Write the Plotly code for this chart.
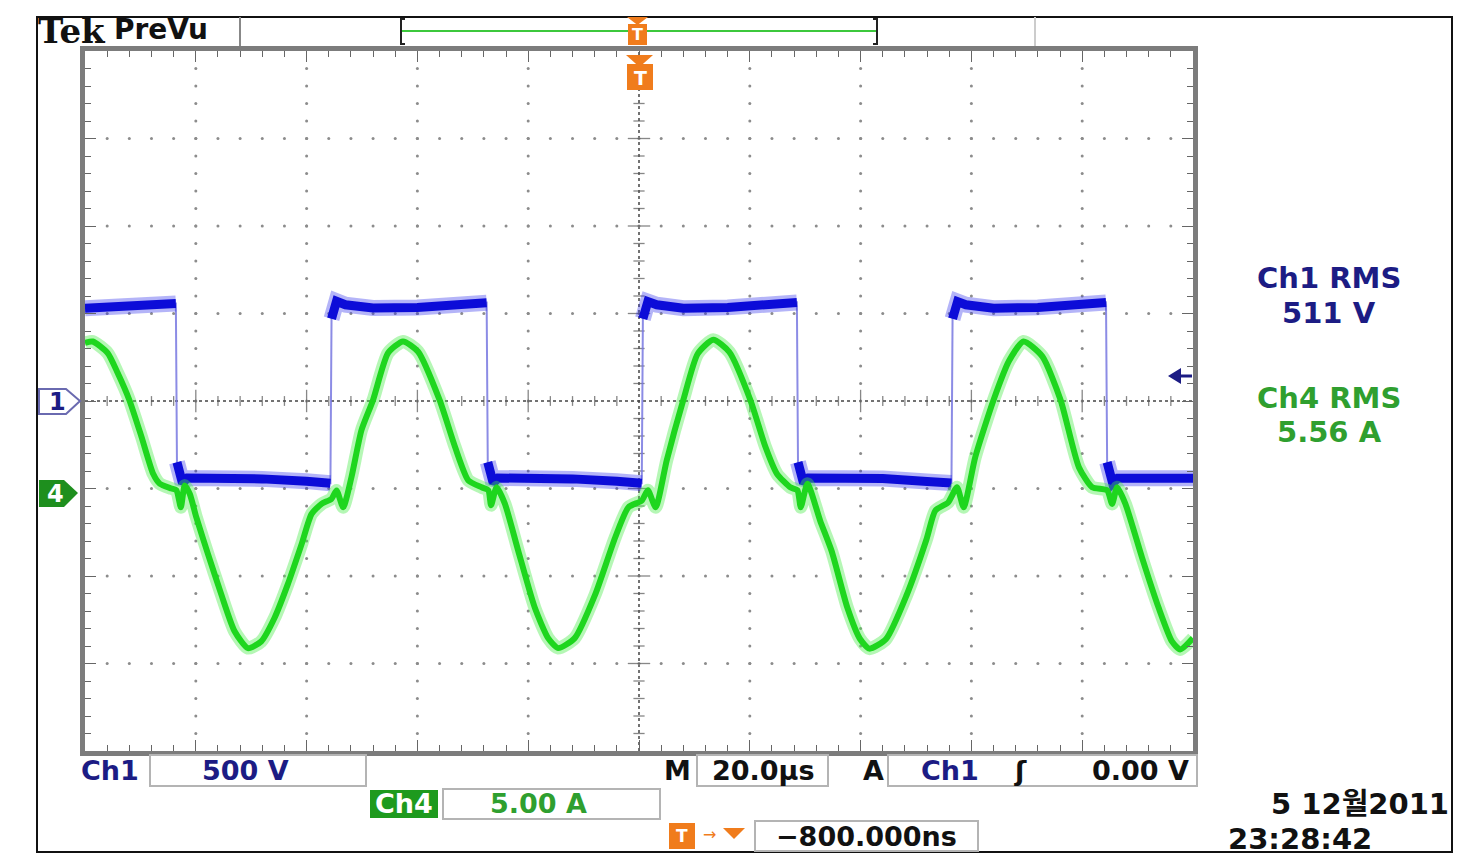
import numpy as np
import plotly.graph_objects as go

# ---------------- data ----------------
# time in microseconds (20 us/div, trigger at centre)
ch1_t = [-100, -92, -86, -83.6, -83.4, -82.4, -81.5, -76, -68, -60, -55.7,
         -55.5, -54.6, -53, -48, -40, -32, -27.5,
         -27.3, -26.3, -25.4, -20, -12, -4, 0.5,
         0.7, 1.6, 3.2, 8, 16, 24, 28.5,
         28.7, 29.7, 30.6, 36, 44, 52, 56.4,
         56.6, 57.5, 59, 64, 72, 80, 84.3,
         84.5, 85.5, 86.4, 92, 100]
# Ch1 voltage in volts (500 V/div)
ch1_v = [530, 538, 548, 557, -350, -470, -440, -437, -445, -458, -470,
         470, 570, 550, 532, 535, 548, 562,
         -350, -470, -440, -437, -445, -458, -470,
         470, 568, 550, 530, 535, 548, 563,
         -350, -470, -440, -437, -443, -460, -468,
         470, 568, 550, 530, 535, 548, 563,
         -350, -470, -442, -440, -442]

ch4_t = [-100, -98.6, -95.9, -94.1, -92.0, -89.8, -87.7, -86.5, -84.4, -83.5,
         -82.7, -82.0, -81.1, -79.9, -77.8, -75.4, -73.0, -70.6, -68.2, -65.8,
         -63.4, -60.9, -59.1, -57.3, -55.5, -54.6, -53.4, -51.9, -50.1, -48.0,
         -45.3, -42.6, -39.9, -36.0, -33.2, -30.8, -28.4, -27.2, -26.7, -25.7,
         -24.2, -21.8, -18.8, -16.4, -14.6, -11.6, -7.9, -4.3, -1.9, 0.5,
         1.6, 3.0, 5.0, 8.0, 10.6, 13.4, 16.3, 20.1, 22.8, 24.9,
         27.3, 28.6, 29.2, 30.4, 32.7, 34.8, 37.6, 39.9, 41.6, 44.6,
         48.3, 51.9, 53.5, 55.8, 57.4, 58.6, 60.7, 64.0, 66.8, 69.4,
         72.8, 76.1, 79.4, 81.8, 84.5, 85.4, 86.3, 87.8, 90.8, 93.8,
         96.2, 97.7, 100]
# Ch4 current in amperes (5 A/div)
ch4_i = [8.32, 8.4, 7.74, 6.6, 5.06, 2.95, 0.84, 0.27, 0.0, -0.1,
         -1.07, 0.17, -0.3, -1.65, -3.75, -6.05, -8.16, -9.12, -8.74, -7.4,
         -5.48, -3.18, -1.45, -0.88, -0.59, -0.11, -1.07, 0.65, 3.33, 5.06,
         7.74, 8.4, 7.83, 5.06, 2.37, 0.46, 0.07, -0.1, -0.95, 0.07,
         -0.88, -3.56, -6.82, -8.55, -9.12, -8.55, -6.05, -2.8, -1.07, -0.69,
         -0.1, -1.07, 1.6, 5.06, 7.7, 8.5, 7.8, 5.06, 2.4, 0.84,
         0.07, -0.1, -1.07, 0.27, -1.84, -3.6, -6.8, -8.6, -9.15, -8.6,
         -6.1, -2.9, -1.26, -0.8, 0.07, -1.07, 1.8, 5.06, 7.3, 8.4,
         7.55, 5.06, 1.22, 0.07, -0.1, -0.88, 0.07, -0.88, -3.95, -6.82,
         -8.74, -9.2, -8.55]

V_PER_DIV = 500
A_PER_DIV = 5
US_PER_DIV = 20
CH4_POS_DIV = -1

ch1_rms_label = "511 V"
ch4_rms_label = "5.56 A"
ch1_scale_label = "500 V"
ch4_scale_label = "5.00 A"
time_scale_label = "20.0µs"
trig_level_label = "0.00 V"
trig_pos_label = "\u2212800.000ns"
date_label = "5 12월2011"
clock_label = "23:28:42"

# ---------------- figure geometry ----------------
W, H = 1479, 868
L, R, T, B = 85, 1193, 51, 751


def PX(x):
    return (x - L) / (R - L)


def PY(y):
    return (B - y) / (B - T)


NAVY = "#1c1c84"
GREEN_TXT = "#2f9f2f"
ORANGE = "#f07c1c"
FONT = "DejaVu Sans, Noto Sans CJK KR, sans-serif"

fig = go.Figure()

# graticule dots
gx, gy = [], []
for tx in range(-80, 81, US_PER_DIV):
    if tx == 0:
        continue
    for vy in np.arange(-1900, 1901, 100):
        gx.append(tx)
        gy.append(vy)
for vy in range(-1500, 1501, V_PER_DIV):
    if vy == 0:
        continue
    for tx in np.arange(-96, 97, 4):
        gx.append(tx)
        gy.append(vy)
fig.add_trace(go.Scatter(x=gx, y=gy, mode="markers",
                         marker=dict(size=3, color="#8c8c8c"),
                         hoverinfo="skip"))

# centre-line ticks
ctx = [v for v in np.arange(-96, 97, 4) if v != 0]
fig.add_trace(go.Scatter(x=ctx, y=[0] * len(ctx), mode="markers",
                         marker=dict(symbol="line-ns",
                                     size=[16 if abs(v) % 20 == 0 else 7 for v in ctx],
                                     line=dict(width=1.3, color="#555")),
                         hoverinfo="skip"))
cty = [v for v in np.arange(-1900, 1901, 100) if v != 0]
fig.add_trace(go.Scatter(x=[0] * len(cty), y=cty, mode="markers",
                         marker=dict(symbol="line-ew",
                                     size=[16 if abs(v) % 500 == 0 else 8 for v in cty],
                                     line=dict(width=1.3, color="#555")),
                         hoverinfo="skip"))

# Ch1 thin full trace (edges)
fig.add_trace(go.Scatter(x=ch1_t, y=ch1_v, mode="lines",
                         line=dict(color="rgba(120,120,225,0.85)", width=2),
                         hoverinfo="skip"))
# Ch1 thick plateaus: break where the trace jumps
th_t, th_v = [], []
for i in range(len(ch1_t)):
    if i > 0 and abs(ch1_v[i] - ch1_v[i - 1]) > 500:
        th_t.append(None)
        th_v.append(None)
    th_t.append(ch1_t[i])
    th_v.append(ch1_v[i])
fig.add_trace(go.Scatter(x=th_t, y=th_v, mode="lines",
                         line=dict(color="rgba(40,40,235,0.35)", width=16),
                         hoverinfo="skip"))
fig.add_trace(go.Scatter(x=th_t, y=th_v, mode="lines",
                         line=dict(color="#0c0cd8", width=9),
                         hoverinfo="skip"))

# Ch4 current
fig.add_trace(go.Scatter(x=ch4_t, y=ch4_i, mode="lines", yaxis="y2",
                         line=dict(color="rgba(70,235,70,0.4)", width=13,
                                   shape="spline", smoothing=0.6),
                         hoverinfo="skip"))
fig.add_trace(go.Scatter(x=ch4_t, y=ch4_i, mode="lines", yaxis="y2",
                         line=dict(color="#1ed61e", width=6,
                                   shape="spline", smoothing=0.6),
                         hoverinfo="skip"))

shapes = []
# centre lines
shapes.append(dict(type="line", xref="x", yref="y", x0=-100, x1=100, y0=0, y1=0,
                   line=dict(color="#444", width=1.5, dash="dot"), layer="below"))
shapes.append(dict(type="line", xref="x", yref="y", x0=0, x1=0, y0=-2000, y1=2000,
                   line=dict(color="#444", width=1.5, dash="dot"), layer="below"))

# outer black frame
shapes.append(dict(type="rect", xref="paper", yref="paper",
                   x0=PX(37), x1=PX(1452), y0=PY(852), y1=PY(17),
                   line=dict(color="#111", width=2)))
# top bar separators
shapes.append(dict(type="line", xref="paper", yref="paper", x0=PX(240), x1=PX(240),
                   y0=PY(17), y1=PY(46), line=dict(color="#888", width=2)))
shapes.append(dict(type="line", xref="paper", yref="paper", x0=PX(1035), x1=PX(1035),
                   y0=PY(17), y1=PY(46), line=dict(color="#ccc", width=2)))
# record view bracket
shapes.append(dict(type="line", xref="paper", yref="paper", x0=PX(401), x1=PX(877),
                   y0=PY(31), y1=PY(31), line=dict(color="#3cc83c", width=2)))
for xb, d in ((401, 4), (877, -4)):
    shapes.append(dict(type="path", xref="paper", yref="paper",
                       path=f"M {PX(xb + d)} {PY(19)} L {PX(xb)} {PY(19)} L {PX(xb)} {PY(44)} L {PX(xb + d)} {PY(44)}",
                       line=dict(color="#222", width=2)))
# orange trigger markers
shapes.append(dict(type="path", xref="paper", yref="paper",
                   path=f"M {PX(627)} {PY(17)} L {PX(648)} {PY(17)} L {PX(637.5)} {PY(25)} Z",
                   fillcolor=ORANGE, line=dict(width=0)))
shapes.append(dict(type="rect", xref="paper", yref="paper",
                   x0=PX(628), x1=PX(647), y0=PY(45), y1=PY(24),
                   fillcolor=ORANGE, line=dict(width=0)))
shapes.append(dict(type="path", xref="paper", yref="paper",
                   path=f"M {PX(626)} {PY(55)} L {PX(653)} {PY(55)} L {PX(639.5)} {PY(67)} Z",
                   fillcolor=ORANGE, line=dict(width=0)))
shapes.append(dict(type="rect", xref="paper", yref="paper",
                   x0=PX(627), x1=PX(653), y0=PY(90), y1=PY(64),
                   fillcolor=ORANGE, line=dict(width=0)))
# channel markers on the left
shapes.append(dict(type="path", xref="paper", yref="paper",
                   path=f"M {PX(39)} {PY(389)} L {PX(66)} {PY(389)} L {PX(80)} {PY(401)} L {PX(66)} {PY(414)} L {PX(39)} {PY(414)} Z",
                   fillcolor="white", line=dict(color="#6a6ab0", width=2)))
shapes.append(dict(type="path", xref="paper", yref="paper",
                   path=f"M {PX(39)} {PY(480)} L {PX(64)} {PY(480)} L {PX(78)} {PY(493)} L {PX(64)} {PY(507)} L {PX(39)} {PY(507)} Z",
                   fillcolor="#1e8f1e", line=dict(width=0)))
# trigger level arrow on the right
shapes.append(dict(type="path", xref="paper", yref="paper",
                   path=f"M {PX(1168)} {PY(376)} L {PX(1181)} {PY(368)} L {PX(1181)} {PY(384)} Z",
                   fillcolor=NAVY, line=dict(width=0)))
shapes.append(dict(type="line", xref="paper", yref="paper", x0=PX(1180), x1=PX(1192),
                   y0=PY(376), y1=PY(376), line=dict(color=NAVY, width=3)))
# readout boxes
for x0, x1, y0, y1 in ((150, 366, 755, 786), (697, 828, 755, 786), (888, 1197, 755, 786),
                       (443, 660, 789, 819), (755, 978, 821, 851)):
    shapes.append(dict(type="rect", xref="paper", yref="paper",
                       x0=PX(x0), x1=PX(x1), y0=PY(y1), y1=PY(y0),
                       line=dict(color="#b4b4b4", width=2)))
shapes.append(dict(type="rect", xref="paper", yref="paper",
                   x0=PX(370), x1=PX(438), y0=PY(818), y1=PY(790),
                   fillcolor="#1e9a1e", line=dict(width=0)))
# bottom trigger position icon
shapes.append(dict(type="rect", xref="paper", yref="paper",
                   x0=PX(669), x1=PX(695), y0=PY(849), y1=PY(823),
                   fillcolor=ORANGE, line=dict(width=0)))
shapes.append(dict(type="path", xref="paper", yref="paper",
                   path=f"M {PX(723)} {PY(828)} L {PX(745)} {PY(828)} L {PX(734)} {PY(839)} Z",
                   fillcolor=ORANGE, line=dict(width=0)))


def txt(x, y, s, size=28, color="#111", anchor="center", bold=True, family=FONT):
    return dict(xref="paper", yref="paper", x=PX(x), y=PY(y),
                text=f"<b>{s}</b>" if bold else s,
                showarrow=False, xanchor=anchor, yanchor="middle",
                font=dict(size=size, color=color, family=family))


ann = [
    txt(36, 31, "Tek", size=34, anchor="left", family="DejaVu Serif, serif"),
    txt(112, 29, "PreVu", size=28, anchor="left"),
    txt(637.5, 35, "T", size=16, color="white"),
    txt(640, 78, "T", size=19, color="white"),
    txt(57, 402, "1", size=24, color=NAVY),
    txt(55, 494, "4", size=24, color="white"),
    txt(1329, 277.5, "Ch1 RMS", size=29, color=NAVY),
    txt(1329, 312.5, ch1_rms_label, size=29, color=NAVY),
    txt(1329, 397.5, "Ch4 RMS", size=29, color=GREEN_TXT),
    txt(1329, 432.5, ch4_rms_label, size=29, color=GREEN_TXT),
    txt(79, 770, "Ch1", size=27, color=NAVY, anchor="left"),
    txt(245, 770, ch1_scale_label, size=27, color=NAVY),
    txt(677, 771, "M", size=27),
    txt(763, 771, time_scale_label, size=27),
    txt(873, 771, "A", size=27),
    txt(950, 771, "Ch1", size=27, color=NAVY),
    txt(1020, 771, "ʃ", size=27),
    txt(1140, 771, trig_level_label, size=27),
    txt(404, 804, "Ch4", size=27, color="white"),
    txt(538, 804, ch4_scale_label, size=27, color=GREEN_TXT),
    txt(1451, 804, date_label, size=29, anchor="right"),
    txt(1226, 838.5, clock_label, size=29, anchor="left"),
    txt(682, 836, "T", size=17, color="white"),
    txt(709, 834, "→", size=16, color=ORANGE, bold=False),
    txt(866, 836, trig_pos_label, size=27),
]

axis_common = dict(showgrid=False, zeroline=False, showticklabels=False,
                   showline=True, linecolor="#7c7c7c", linewidth=5, mirror="ticks",
                   ticks="inside", ticklen=11, tickcolor="#666", tickwidth=1.3)

fig.update_layout(
    width=W, height=H, autosize=False,
    margin=dict(l=L, r=W - R, t=T, b=H - B, pad=0),
    paper_bgcolor="white", plot_bgcolor="white",
    showlegend=False, hovermode=False,
    xaxis=dict(range=[-5 * US_PER_DIV, 5 * US_PER_DIV], dtick=US_PER_DIV, tick0=0,
               minor=dict(dtick=US_PER_DIV / 5, ticklen=6, ticks="inside", tickcolor="#666"),
               **axis_common),
    yaxis=dict(range=[-4 * V_PER_DIV, 4 * V_PER_DIV], dtick=V_PER_DIV, tick0=0,
               minor=dict(dtick=V_PER_DIV / 5, ticklen=6, ticks="inside", tickcolor="#666"),
               **axis_common),
    yaxis2=dict(range=[(-4 - CH4_POS_DIV) * A_PER_DIV, (4 - CH4_POS_DIV) * A_PER_DIV],
                overlaying="y", visible=False),
    shapes=shapes,
    annotations=ann,
)

fig.write_html("out.html")
